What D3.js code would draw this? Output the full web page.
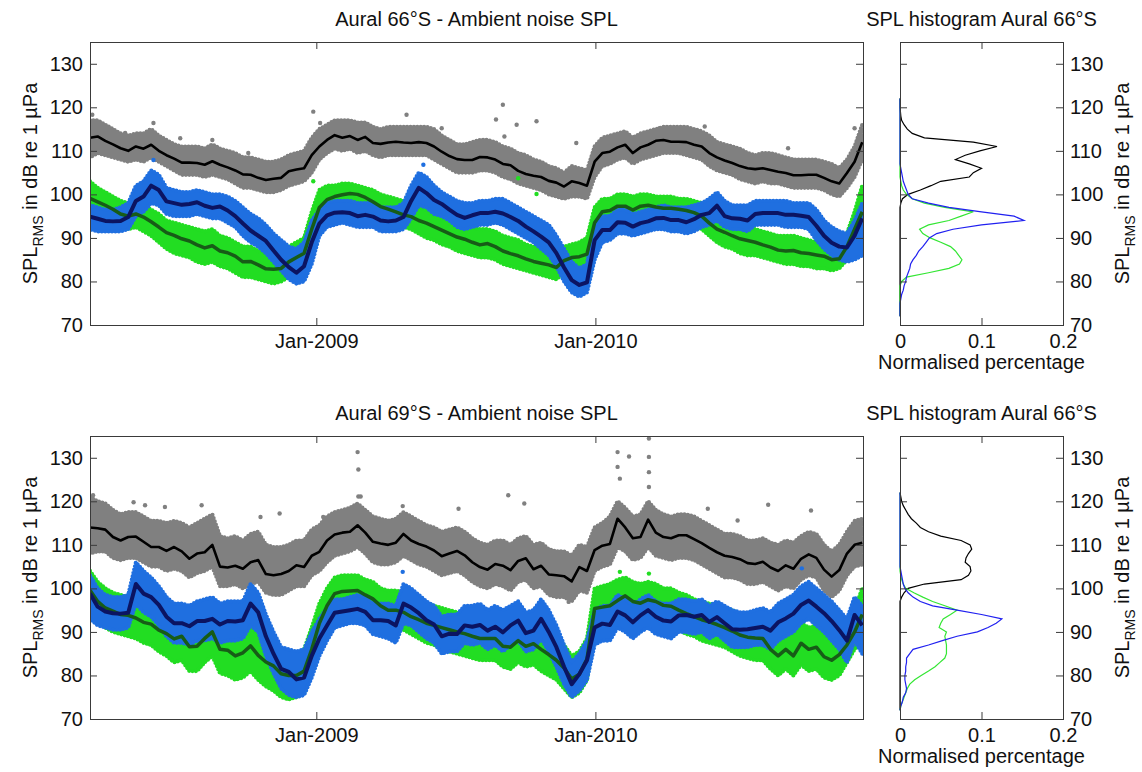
<!DOCTYPE html>
<html>
<head>
<meta charset="utf-8">
<script src="https://cdn.jsdelivr.net/npm/d3@7"></script>
<style>
  body { margin: 0; background: #fff; }
  svg text { font-family: "Liberation Sans", Arial, Helvetica, sans-serif; fill: #111; }
</style>
</head>
<body>
<svg id="chart" width="1142" height="772"></svg>
<script>

// time grid: one sample every 10 days from the left edge of the record
var startDate = new Date(2008, 2, 11);
var endDate = new Date(2010, 11, 17);
var sampleStep = 10;

var xTicks = [new Date(2009, 0, 1), new Date(2010, 0, 1)];
var xTickLabels = ['Jan-2009', 'Jan-2010'];
var yTicks = [70, 80, 90, 100, 110, 120, 130];
var histTicks = [0, 0.1, 0.2];
var histBins = d3.range(72, 123);   // dB bin centres

// ---- Aural 66°S : smoothed SPL (line) and spread of the daily points (lo/hi) ----
var gray66 = [
  113.0,113.3,112.3,111.5,110.6,110.0,111.0,110.5,111.4,110.0,
  109.0,108.2,107.3,107.3,107.2,106.8,107.6,106.8,106.2,105.5,
  104.6,104.5,103.8,103.3,103.6,103.8,105.3,105.7,106.0,109.0,
  111.0,112.5,113.6,113.0,113.4,112.5,113.2,111.8,
  111.6,111.9,112.1,111.9,111.8,112.0,111.8,111.0,109.8,108.8,
  108.1,107.9,107.9,108.6,108.5,108.0,107.0,106.7,105.4,104.7,
  104.3,104.0,103.1,102.7,101.8,103.0,102.6,102.0,107.5,109.5,
  109.8,110.8,111.4,109.5,110.8,111.4,112.3,112.5,112.1,112.1,
  112.0,111.4,111.0,109.5,108.5,107.8,107.2,106.5,106.0,105.8,
  106.0,105.6,105.2,104.9,104.4,104.4,104.5,104.5,103.8,103.0,
  102.5,104.9,107.5,112.0];
var gray66Hi = [
  117,117,116,115,114,113.5,114,114,115,113.5,
  112.5,111.5,111,111,111,110.5,111.5,110.5,110,109.5,
  108.5,108.5,108,107.5,107.5,108,109,109.5,110,113,
  115,116,117,117,117,116.5,116.5,115.5,
  115,115.5,115.5,115.5,115.5,115.5,115.5,115,113.5,112.5,
  111.5,111.5,112,112.5,112.5,112,111,110.5,109.5,109,
  108,107.5,106.5,106,105,106.5,106,105.5,111,113,
  113.5,114,114.5,113,114,114.5,115,115.5,115.5,115.5,
  115.5,115,114.5,113.5,112,111.5,111,110.5,109.5,109,
  109.5,109.5,109,108.5,108,108,108,108,107.5,107,
  106,108,111,116];
var gray66Lo = [
  108.5,109.5,109,108.5,108,107.5,108,107.5,108.5,107.5,
  106.5,105.5,104.5,104.5,104.5,104,104.5,104,103.5,102.5,
  101.5,101.5,101,100.5,100.5,101,102,102.5,103,105,
  108,109.5,110.5,110,110.5,109.5,110,109,
  108.5,109,109,109,109,109,109,108,107,106,
  105,105,105,105.5,105.5,105,104,103.5,102.5,102,
  101.5,101,100,99.5,99,99.5,99.5,99,104,106.5,
  107,108,108.5,107,108,108.5,109,109.5,109.5,109.5,
  109,108.5,108,106.5,105.5,105,104.5,103.5,103,102.5,
  103,102.5,102.5,102,101.5,101.5,101.5,101.5,101,100,
  99.5,101.5,104,108];

var blue66 = [
  94.9,94.4,93.9,93.8,93.9,94.8,98.5,99.5,102.0,101.0,
  98.4,98.0,97.6,97.8,98.2,97.4,96.9,97.2,96.3,95.0,
  93.3,91.7,90.5,89.3,87.1,85.0,83.3,82.0,83.5,89.0,
  93.3,95.2,95.8,95.9,95.7,95.0,95.3,94.9,
  94.0,93.8,94.0,94.8,98.5,101.5,100.3,98.7,97.8,96.5,
  95.3,94.6,95.2,95.7,95.7,96.0,95.6,94.8,93.9,92.6,
  91.5,90.3,89.0,86.5,83.2,80.3,79.2,79.8,89.5,91.8,
  91.8,93.6,93.5,92.6,93.4,93.8,94.5,94.6,94.1,94.1,
  93.6,94.3,95.3,95.7,97.4,95.0,94.5,94.4,94.0,95.5,
  95.7,95.7,95.7,95.3,95.3,95.1,94.8,92.8,90.5,88.9,
  88.0,87.8,90.5,94.5];
var blue66Hi = [
  97.5,97,96.5,96.5,97,98,102,103,105.5,104.5,
  101.5,101,100.5,100.5,101,100.5,100,100,99.5,98.5,
  97,95.5,94.5,93,91,89.5,88,87.5,89,94,
  96.5,98,98.5,98.5,98.5,98,98,98,
  97,97,97,98,102,105,104,102,100.5,99.5,
  98.5,98,98,98.5,98.5,99,99,98,97,96,
  95,94,93,90.5,87.5,84.5,83,84,93,95,
  95,96.5,96.5,95.5,96,96.5,97,97.5,97,97,
  97,97.5,98,99,100.5,98.5,97.5,97.5,97.5,98.5,
  98.5,98.5,98.5,98.5,98,98,98,96.5,94,92.5,
  91.5,91,94,98];
var blue66Lo = [
  92,91.5,91.5,91.5,91.5,92,95,96,98,97.5,
  95.5,95,95,95,95.5,95,94.5,94.5,93.5,92.5,
  90.5,89,88,86.5,84.5,82.5,80.5,79.5,80,84,
  90.5,92.5,93,93.5,93,92.5,92.5,92.5,
  91.5,91.5,91.5,92,94.5,97.5,97,95.5,95,94,
  92.5,92,92.5,93,93,93.5,93,92,91,90,
  89,87.5,86,83.5,80,77.5,76.5,77.5,85,89,
  89.5,91,91,90.5,91,91.5,92,92,91.5,91.5,
  91,91.5,92.5,93,94,92.5,92,92,91.5,93,
  93,93,93,92.5,92.5,92.5,92,89.5,87.5,86,
  85,84.5,85,86];

var green66 = [
  99.1,98.3,97.5,96.6,95.5,95.0,95.5,94.8,93.7,92.5,
  91.2,90.6,89.8,89.3,88.4,87.7,88.2,87.0,86.6,85.8,
  84.5,84.6,83.8,82.9,82.8,83.0,84.5,85.5,86.5,92.0,
  97.0,98.8,99.5,99.9,100.2,100.0,99.3,98.3,
  97.2,96.6,96.0,95.3,94.9,94.0,93.4,92.6,91.8,91.0,
  90.2,89.7,89.0,88.4,88.7,88.0,87.0,86.4,85.9,85.2,
  84.6,84.2,83.8,83.2,84.8,85.5,85.7,86.3,93.5,96.0,
  96.3,97.3,97.3,96.4,97.3,97.5,97.1,96.8,96.8,96.6,
  96.3,95.8,95.0,93.4,92.0,91.3,90.5,89.8,89.4,89.0,
  88.4,87.9,87.2,87.0,87.1,86.6,86.4,86.1,85.8,85.0,
  85.2,88.0,92.0,96.0];
var green66Hi = [
  103,101.5,100.5,99.5,98.5,98,98.5,97.5,96.5,95.5,
  94,93.5,93,92.5,92,91.5,92,90.5,90,89,
  88,88,87,86.5,86.5,87,88,89,90,96,
  101,102,102,102.5,102.5,102,101.5,101,
  100,99.5,99,98.5,98,97,96.5,96,95,94.5,
  93.5,93,92.5,92,92,91.5,90.5,90,89.5,88.5,
  88,87.5,87,87,88,88.5,89,90,97,99,
  99,100,100,99.5,100,100,99.5,99.5,99.5,99,
  99,98.5,98,96.5,95,94.5,93.5,93,92.5,92,
  91.5,91,90.5,90.5,90.5,90,89.5,89,89,88.5,
  88.5,91,96,102];
var green66Lo = [
  96,95,94.5,93.5,92.5,92,92.5,91.5,90.5,89,
  87.5,86.5,86,85.5,84.5,84,84.5,83.5,83,82,
  81,81,80.5,80,79.5,80,81,82,83,88,
  94,96,97,97.5,97.5,97,96.5,95.5,
  94.5,94,93.5,92.5,92,91,90,89.5,88.5,88,
  87,86.5,86,85.5,85.5,85,84,83.5,83,82.5,
  82,81.5,81,80.5,82,83,83,83.5,90,93,
  93.5,94.5,94.5,93.5,94.5,94.5,94.5,94,94,94,
  93.5,93,92,90.5,89,88,87.5,86.5,86,86,
  85.5,85,84.5,84,84,83.5,83.5,83,83,82.5,
  83,85,87,86];

// isolated points well away from the clouds: [days after startDate, dB]
var gray66Out = [[3,118.3],[46,114.1],[83,116.4],[118,112.9],[160,112.5],[207,109.5],[292,119],[301,116.4],
  [414,118.3],[460,115.2],[531,117.2],[540,120.6],[542,113.3],[558,116],[584,116.8],[636,111.8],
  [745,115.2],[804,115.6],[913,110.6],[1000,115.2]];
var green66Out = [[292,103],[560,103.7],[584,100.1]];
var blue66Out = [[83,107.9],[436,106.8]];

// ---- Aural 69°S ----
var gray69 = [
  114.0,113.8,113.5,111.8,111.0,111.8,111.9,110.7,109.5,109.5,
  108.6,109.5,108.5,106.8,108.0,108.3,110.0,105.0,104.8,105.2,
  104.5,106.0,106.5,103.3,103.0,103.3,104.0,105.3,104.9,107.5,
  108.4,111.0,112.4,112.8,113.0,114.5,112.8,110.7,
  110.3,110.0,110.5,112.5,111.0,110.2,109.6,108.7,107.4,108.0,
  108.6,107.6,106.0,104.9,104.3,105.6,105.2,104.2,106.3,106.9,
  104.4,105.2,103.2,103.0,102.8,101.6,104.9,104.0,108.8,109.8,
  110.2,116.0,114.0,111.5,111.8,115.8,112.8,111.8,111.5,112.2,
  112.2,111.3,110.4,109.3,108.3,107.5,107.2,106.7,105.8,105.6,
  106.1,104.8,104.0,105.3,104.5,106.8,107.8,107.0,104.3,102.7,
  104.2,108.0,110.0,110.5];
var gray69Hi = [
  121,120,119.5,118,117,117.5,117.5,116.5,115.5,115.5,
  115,115.5,115,114,115,116,117,112,111.5,112,
  111,112.5,113,110,109.5,109.5,110,111,111,113.5,
  114.5,116.5,117.5,118,118.5,119.5,118,116.5,
  116,115.5,116,117.5,116.5,115.5,114.5,114,113,113.5,
  114,113,111.5,110.5,110,111,111,110,111.5,112,
  110,110.5,109,108.5,108.5,107.5,110,109.5,114,115,
  116.5,120,118.5,116.5,117,120,118,117,116.5,117,
  117,116.5,115.5,114.5,113.5,112.5,112.5,112,111,111,
  111.5,110.5,110,111,110.5,112,113,112.5,110,108.5,
  110,113,115.5,116];
var gray69Lo = [
  108,108.5,108.5,107,106.5,107,107,106,105,105,
  104,104.5,104,102.5,103.5,104,105,100.5,100.5,101,
  100,101,101.5,99,98.5,98.5,99.5,100.5,100.5,103,
  104,106,107.5,108,108.5,109.5,108,106,
  105.5,105.5,106,107.5,106.5,105.5,105,104,103,103.5,
  104,103,101.5,100.5,100,101,100.5,99.5,101.5,102,
  100,100.5,98.5,98,98,97,99.5,99,104,105,
  105.5,109.5,108.5,106.5,107,109.5,107.5,107,106.5,107,
  107,106.5,105.5,104.5,103.5,102.5,102.5,102,101,101,
  101.5,100.5,99.5,100.5,100,102,103,102.5,99.5,98,
  99.5,103,105,105.5];

var blue69 = [
  98.8,95.8,94.7,94.3,94.2,94.4,101.0,98.8,98.0,96.2,
  93.5,92.0,92.0,91.3,92.5,92.5,93.0,91.7,92.5,92.4,
  92.7,96.5,94.5,89.0,85.0,81.5,80.8,79.1,79.5,84.5,
  88.5,91.5,94.4,94.7,95.0,95.3,94.6,92.7,
  92.7,92.5,91.5,96.5,95.6,94.3,92.7,91.7,89.0,89.6,
  89.5,91.5,91.2,91.6,90.3,91.2,89.9,91.5,92.6,89.7,
  90.3,93.0,90.0,86.5,82.0,78.0,80.3,83.5,91.0,91.9,
  91.6,94.7,93.8,92.2,93.8,95.0,93.5,92.6,92.4,93.8,
  93.9,93.5,93.9,92.3,93.4,92.0,90.6,90.5,90.6,90.9,
  91.2,90.3,92.2,93.1,94.2,96.2,97.2,95.8,94.3,92.5,
  90.4,88.0,93.9,91.5];
var blue69Hi = [
  103,100,98.5,98,98,98.5,106,104,102.5,100.5,
  98,96.5,96.5,96,97,97.5,98,96.5,97,97,
  97,101,99,94,90,86.5,86,85.5,86,90,
  93,95.5,97.5,97.5,98,98.5,98,96.5,
  96.5,96.5,96,101,100,98.5,97,96,93.5,94,
  94,96,96,96.5,95,96,95,96,97,94.5,
  95,97.5,95,91.5,87,83,85,88,95,96,
  96,98.5,97.5,96,97.5,98.5,97,96.5,96.5,97.5,
  97.5,97,97.5,96,97,96,95,94.5,94.5,95,
  95.5,94.5,96.5,97.5,98.5,100.5,101.5,100,98.5,97,
  95,93,98,96];
var blue69Lo = [
  93,91.5,91,90.5,90.5,91,96.5,94.5,93.5,91.5,
  89,87.5,87.5,87,88,88,88.5,87.5,88,88,
  88.5,91.5,90,84.5,80.5,77,75.5,75,75.5,79.5,
  84.5,88,91,91.5,92,92,91.5,89.5,
  89,88.5,87.5,92,91.5,90,88.5,87.5,85,85.5,
  85.5,87.5,87,87.5,86,87,85.5,87,88,85.5,
  86,88.5,85.5,82,78,75,76.5,79,87,88,
  88,91,90,88.5,90,91,89.5,89,88.5,90,
  90,89.5,90,88.5,89.5,88,86.5,86.5,86.5,87,
  87,86,88,89,90,92,93,91.5,90,88,
  86,83,88,85];

var green69 = [
  99.6,97.0,95.5,94.8,94.0,93.8,93.2,92.2,91.8,90.4,
  89.6,88.4,89.0,86.6,86.7,88.5,90.0,86.0,85.8,84.5,
  85.2,86.8,84.6,83.1,82.2,80.4,80.0,80.0,81.0,86.0,
  92.0,96.0,98.8,99.3,99.4,99.5,98.5,97.6,
  96.0,95.0,95.0,94.5,93.5,92.8,92.0,91.5,91.0,90.5,
  90.0,89.6,89.0,88.5,88.5,88.5,86.7,86.5,88.0,86.7,
  87.3,86.0,84.8,83.5,81.7,79.2,80.3,83.8,95.4,95.7,
  96.0,97.2,98.3,97.0,96.6,97.4,97.0,96.1,95.9,95.0,
  94.2,93.5,92.8,92.3,91.7,91.0,90.2,89.3,88.8,88.6,
  88.5,86.0,84.5,86.0,84.5,87.4,86.0,86.5,84.3,83.5,
  84.8,87.0,90.0,94.0];
var green69Hi = [
  104,101.5,100,99,98.5,98,97.5,96.5,96,95,
  94,93,93.5,91.5,91.5,93,94.5,90.5,90.5,89.5,
  90,91.5,89.5,88,87,85.5,85,85,86,91,
  96.5,100,102.5,103,103,103,102,101.5,
  100,99.5,99.5,99,98,97.5,96.5,96,95.5,95,
  94.5,94,93.5,93,93,93,91.5,91,92.5,91.5,
  92,91,89.5,88.5,87,84.5,85.5,88.5,100,100.5,
  101,102,102.5,101.5,101,101.5,101,100,100,99,
  98.5,97.5,97,96.5,96,95.5,95,94,93.5,93,
  93,91,89.5,91,89.5,92,91,91.5,89.5,88.5,
  89.5,92,95,100];
var green69Lo = [
  95,92.5,91,90,89.5,89,88.5,87.5,87,85.5,
  84.5,83,83.5,81,81,83,84.5,80.5,80,79,
  79.5,81,79,77.5,76.5,75,74.5,75,76,81,
  87,91.5,95,95.5,95.5,95.5,94.5,93.5,
  92,91,91,90.5,89.5,88.5,87.5,87,86,85.5,
  85,84.5,84,83.5,83.5,83.5,82,81.5,83,82,
  82.5,81,80,79,77,75,76,79,91,91.5,
  92,93,94,93,92.5,93,92.5,92,91.5,90.5,
  89.5,89,88,87.5,87,86.5,85.5,84.5,84,83.5,
  83.5,81.5,80,81.5,80,82.5,81,81.5,79.5,79,
  80,83,86,88];

var gray69Out = [[4,121.4],[57,119.8],[72,119.1],[98,118.7],[146,119.1],[223,116.4],[248,117.2],[305,116.4],
  [350,131.3],[351,127.3],[351,121.1],[354,121.1],[409,118.9],[482,118.3],[547,121.4],[568,119.5],
  [626,96.9],[690,131.3],[690,127.9],[693,125.2],[705,130.3],[731,134.4],[731,130.2],[731,126.7],
  [731,123.3],[808,118.3],[847,115.6],[887,119.2],[943,117.9]];
var green69Out = [[693,103.8],[731,103.4]];
var blue69Out = [[409,103.8],[931,104.6]];

// ---- histograms (normalised fraction per 1 dB bin, bins 72..122 dB) ----
var hist66Black = [0,0,0,0,0,0,0,0,0,0, 0,0,0,0,0,0,0,0,0,0, 0,0,0,0,0,0,
  .001,.003,.010,.025,.038,.050,.085,.090,.100,.085,.068,.080,.098,.119,.090,.030,.015,.009,.005,.002,.001,.0005,0,0,0];
var hist66Green = [0,0,0,0,0,0,0,0,
  .002,.008,.035,.06,.073,.076,.072,.068,.062,.05,.037,.028,.024,.035,.06,.075,.09,.055,.03,.015,.008,.004,.002,.001,
  0,0,0,0,0,0,0,0,0,0,0,0,0,0,0,0,0,0,0];
var hist66Blue = [0,0,0,0,
  .001,.002,.004,.005,.007,.008,.010,.012,.013,.016,.02,.023,.028,.032,.036,.045,.065,.1,.152,.14,.1,.06,.035,.015,.01,.008,.006,.004,.003,.002,.001,
  0,0,0,0,0,0,0,0,0,0,0,0,0,0,0,0];
var hist69Black = [0,0,0,0,0,0,0,0,0,0, 0,0,0,0,0,0,0,0,0,0, 0,0,0,0,0,0,
  .002,.005,.01,.03,.075,.084,.087,.086,.08,.081,.084,.088,.086,.075,.05,.035,.025,.02,.014,.01,.007,.004,.002,.001,0];
var hist69Green = [0,.001,.003,.005,.007,.009,.012,.018,.026,.035,.043,.049,.055,.057,.057,.057,.056,.055,.057,.048,
  .05,.053,.062,.07,.055,.04,.028,.017,.007,.004,.002,.001,
  0,0,0,0,0,0,0,0,0,0,0,0,0,0,0,0,0,0,0];
var hist69Blue = [0,.001,.003,.004,.007,.008,.007,.006,.006,.007,.007,.008,.008,.012,.016,.035,.052,.07,.095,.108,
  .118,.125,.1,.07,.04,.025,.016,.01,.006,.004,.003,.002,.001,
  0,0,0,0,0,0,0,0,0,0,0,0,0,0,0,0,0,0];

var dotGray = '#808080', dotGreen = '#22dd22', dotBlue = '#1f6fe0';
var frameColor = '#3a3a3a';
var fontFamily = '"Liberation Sans", Arial, Helvetica, sans-serif';

var panels = [
  {id: 'p66', top: 42, bottom: 325, title: 'Aural 66\u00b0S - Ambient noise SPL',
   histTitle: 'SPL histogram Aural 66\u00b0S',
   series: [
     {mid: gray66, lo: gray66Lo, hi: gray66Hi, out: gray66Out, dot: dotGray, line: '#000000', lw: 2.6},
     {mid: green66, lo: green66Lo, hi: green66Hi, out: green66Out, dot: dotGreen, line: '#175c17', lw: 3.5},
     {mid: blue66, lo: blue66Lo, hi: blue66Hi, out: blue66Out, dot: dotBlue, line: '#0b1462', lw: 4}],
   hist: [{v: hist66Black, c: '#000000'}, {v: hist66Green, c: '#33e633'}, {v: hist66Blue, c: '#2020f0'}]},
  {id: 'p69', top: 436, bottom: 719, title: 'Aural 69\u00b0S - Ambient noise SPL',
   histTitle: 'SPL histogram Aural 66\u00b0S',
   series: [
     {mid: gray69, lo: gray69Lo, hi: gray69Hi, out: gray69Out, dot: dotGray, line: '#000000', lw: 2.6},
     {mid: green69, lo: green69Lo, hi: green69Hi, out: green69Out, dot: dotGreen, line: '#175c17', lw: 3.5},
     {mid: blue69, lo: blue69Lo, hi: blue69Hi, out: blue69Out, dot: dotBlue, line: '#0b1462', lw: 4}],
   hist: [{v: hist69Black, c: '#000000'}, {v: hist69Green, c: '#33e633'}, {v: hist69Blue, c: '#2020f0'}]}
];

var svg = d3.select('#chart');

function sampleDate(i) {
  return d3.timeDay.offset(startDate, i * sampleStep);
}

function styleAxis(sel) {
  sel.attr('font-size', 20).attr('font-family', fontFamily);
  sel.select('.domain').remove();
  sel.selectAll('.tick line').attr('stroke', frameColor);
  sel.selectAll('.tick text').attr('fill', '#111');
}

function addYLabel(x, y) {
  var t = svg.append('text')
    .attr('transform', 'translate(' + x + ',' + y + ') rotate(-90)')
    .attr('text-anchor', 'middle')
    .attr('font-size', 20);
  t.append('tspan').text('SPL');
  t.append('tspan').attr('font-size', 14).attr('dy', 6).text('RMS');
  t.append('tspan').attr('dy', -6).text(' in dB re 1 \u00b5Pa');
}

function paintSeriesPanel(g) {
  g.left = 90;
  g.right = 863;
  g.x = d3.scaleTime().domain([startDate, endDate]).range([g.left, g.right]);
  g.y = d3.scaleLinear().domain([70, 135]).range([g.bottom, g.top]);

  svg.append('clipPath').attr('id', 'clip' + g.id)
    .append('rect')
      .attr('x', g.left).attr('y', g.top)
      .attr('width', g.right - g.left).attr('height', g.bottom - g.top);

  var plot = svg.append('g').attr('clip-path', 'url(#clip' + g.id + ')');

  var band = d3.area()
    .x(function(d, i) { return g.x(sampleDate(i)); })
    .y0(function(d) { return g.y(d[0]); })
    .y1(function(d) { return g.y(d[1]); });

  // point clouds, drawn as the spread band with a dotted rim
  g.series.forEach(function(s) {
    var rows = s.lo.map(function(v, i) { return [v, s.hi[i]]; });
    plot.append('path')
      .attr('d', band(rows))
      .attr('fill', s.dot)
      .attr('stroke', s.dot)
      .attr('stroke-width', 4.2)
      .attr('stroke-linecap', 'round')
      .attr('stroke-dasharray', '0,3.4');

    plot.append('g').selectAll('circle').data(s.out)
      .enter()
      .append('circle')
      .attr('cx', function(d) { return g.x(d3.timeDay.offset(startDate, d[0])); })
      .attr('cy', function(d) { return g.y(d[1]); })
      .attr('r', 2.2)
      .attr('fill', s.dot);
  });

  var line = d3.line()
    .x(function(d, i) { return g.x(sampleDate(i)); })
    .y(function(d) { return g.y(d); });

  g.series.forEach(function(s) {
    plot.append('path')
      .attr('d', line(s.mid))
      .attr('fill', 'none')
      .attr('stroke', s.line)
      .attr('stroke-width', s.lw)
      .attr('stroke-linejoin', 'round');
  });

  svg.append('g').attr('transform', 'translate(' + g.left + ',0)')
    .call(d3.axisLeft(g.y).tickValues(yTicks).tickSize(-7).tickSizeOuter(0).tickPadding(7))
    .call(styleAxis);
  svg.append('g').attr('transform', 'translate(' + g.right + ',0)')
    .call(d3.axisRight(g.y).tickValues(yTicks).tickSize(-7).tickSizeOuter(0).tickFormat(''))
    .call(styleAxis);
  svg.append('g').attr('transform', 'translate(0,' + g.bottom + ')')
    .call(d3.axisBottom(g.x).tickValues(xTicks).tickSize(-7).tickSizeOuter(0).tickPadding(9)
      .tickFormat(function(d) { return xTickLabels[xTicks.findIndex(function(t) { return +t === +d; })]; }))
    .call(styleAxis);
  svg.append('g').attr('transform', 'translate(0,' + g.top + ')')
    .call(d3.axisTop(g.x).tickValues(xTicks).tickSize(-7).tickSizeOuter(0).tickFormat(''))
    .call(styleAxis);

  svg.append('rect')
    .attr('x', g.left).attr('y', g.top)
    .attr('width', g.right - g.left).attr('height', g.bottom - g.top)
    .attr('fill', 'none').attr('stroke', frameColor).attr('shape-rendering', 'crispEdges');

  svg.append('text')
    .attr('x', (g.left + g.right) / 2).attr('y', g.top - 16)
    .attr('text-anchor', 'middle').attr('font-size', 20)
    .text(g.title);

  addYLabel(37, (g.top + g.bottom) / 2);
}

function paintHistogram(g) {
  var h = {left: 900, right: 1063};
  h.x = d3.scaleLinear().domain([0, 0.2]).range([h.left, h.right]);
  h.y = g.y;

  var line = d3.line()
    .x(function(d) { return h.x(d); })
    .y(function(d, i) { return h.y(histBins[i]); });

  g.hist.forEach(function(c) {
    svg.append('path')
      .attr('d', line(c.v))
      .attr('fill', 'none')
      .attr('stroke', c.c)
      .attr('stroke-width', 1.2);
  });

  svg.append('g').attr('transform', 'translate(' + h.left + ',0)')
    .call(d3.axisLeft(h.y).tickValues(yTicks).tickSize(-7).tickSizeOuter(0).tickFormat(''))
    .call(styleAxis);
  svg.append('g').attr('transform', 'translate(' + h.right + ',0)')
    .call(d3.axisRight(h.y).tickValues(yTicks).tickSize(-7).tickSizeOuter(0).tickPadding(7))
    .call(styleAxis);
  svg.append('g').attr('transform', 'translate(0,' + g.bottom + ')')
    .call(d3.axisBottom(h.x).tickValues(histTicks).tickSize(-7).tickSizeOuter(0).tickPadding(9)
      .tickFormat(function(d) { return String(d); }))
    .call(styleAxis);
  svg.append('g').attr('transform', 'translate(0,' + g.top + ')')
    .call(d3.axisTop(h.x).tickValues(histTicks).tickSize(-7).tickSizeOuter(0).tickFormat(''))
    .call(styleAxis);

  svg.append('rect')
    .attr('x', h.left).attr('y', g.top)
    .attr('width', h.right - h.left).attr('height', g.bottom - g.top)
    .attr('fill', 'none').attr('stroke', frameColor).attr('shape-rendering', 'crispEdges');

  svg.append('text')
    .attr('x', (h.left + h.right) / 2).attr('y', g.top - 16)
    .attr('text-anchor', 'middle').attr('font-size', 20)
    .text(g.histTitle);

  svg.append('text')
    .attr('x', (h.left + h.right) / 2).attr('y', g.bottom + 44)
    .attr('text-anchor', 'middle').attr('font-size', 20)
    .text('Normalised percentage');

  addYLabel(1129, (g.top + g.bottom) / 2);
}

panels.forEach(function(g) {
  paintSeriesPanel(g);
  paintHistogram(g);
});

</script>
</body>
</html>
